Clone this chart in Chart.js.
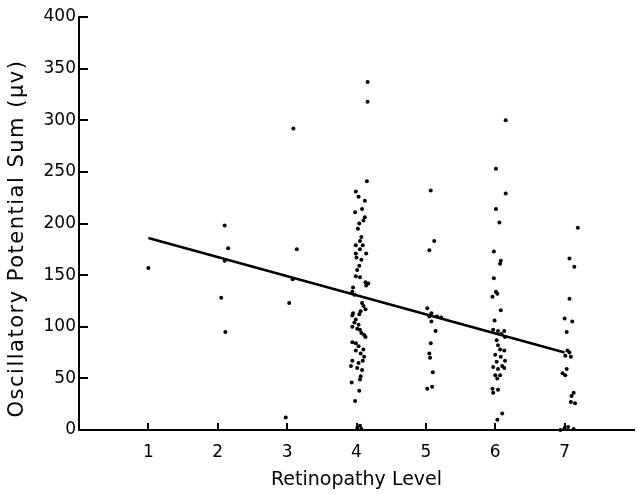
<!DOCTYPE html>
<html>
<head>
<meta charset="utf-8">
<script src="https://cdn.jsdelivr.net/npm/chart.js@4.4.1/dist/chart.umd.min.js"></script>
<style>
  html, body { margin: 0; padding: 0; background: #fff; }
  canvas { display: block; }
</style>
</head>
<body>
<canvas id="chart" width="638" height="494"></canvas>
<script>
// tick values shown on each axis
const xTickValues = [1, 2, 3, 4, 5, 6, 7];
const yTickValues = [0, 50, 100, 150, 200, 250, 300, 350, 400];

const xTitle = 'Retinopathy Level';
const yTitle = 'Oscillatory Potential Sum (\u03bcv)';

// scatter points per retinopathy level: [level (jittered), OP sum]
const level1 = [[1.00, 157]];
const level2 = [[2.10, 198], [2.15, 176], [2.10, 164], [2.05, 128], [2.11, 95]];
const level3 = [[3.09, 292], [3.14, 175], [3.08, 146], [3.03, 123], [2.98, 12]];
const level4 = [
    [4.16, 337], [4.16, 318], [4.15, 241], [3.99, 231], [4.03, 226], [4.12, 222],
    [4.08, 214], [3.98, 211], [4.12, 206], [4.10, 203], [4.04, 200], [4.02, 195],
    [4.07, 187], [4.05, 183], [4.09, 179], [3.99, 179], [4.05, 175], [3.99, 171],
    [4.14, 171], [4.00, 167], [4.07, 165], [4.04, 159], [4.01, 155], [3.99, 149],
    [4.05, 148], [4.13, 143], [4.14, 140], [4.17, 142], [3.95, 138], [3.94, 134],
    [3.97, 131], [4.08, 123], [4.10, 120], [4.13, 117], [4.06, 115], [3.95, 113],
    [4.04, 112], [3.94, 111], [3.99, 107], [3.97, 104], [4.03, 102], [3.94, 100],
    [4.01, 98], [4.05, 97], [4.07, 94], [4.11, 92], [4.13, 90], [3.94, 85],
    [3.99, 84], [4.03, 81], [4.10, 78], [3.99, 77], [4.06, 74], [4.11, 71],
    [3.94, 67], [4.09, 67], [4.03, 65], [3.92, 62], [4.01, 60], [4.08, 58],
    [4.06, 52], [4.05, 49], [3.93, 46], [4.04, 38], [3.98, 28],
    [4.01, 2], [4.05, 4], [4.07, 1]
];
const level5 = [
    [5.07, 232], [5.12, 183], [5.05, 174], [5.02, 118], [5.08, 113], [5.05, 110],
    [5.16, 110], [5.22, 109], [5.08, 105], [5.14, 96], [5.07, 84], [5.05, 74],
    [5.06, 70], [5.10, 56], [5.02, 40], [5.09, 42]
];
const level6 = [
    [6.15, 300], [6.01, 253], [6.15, 229], [6.01, 214], [6.06, 201], [5.98, 173],
    [6.08, 164], [6.07, 161], [5.98, 147], [6.01, 134], [6.03, 132], [5.96, 129],
    [6.08, 116], [5.99, 106], [5.97, 97], [6.04, 96], [6.13, 96], [6.09, 93],
    [6.14, 90], [6.02, 87], [6.04, 82], [6.07, 78], [6.13, 77], [6.00, 73],
    [6.08, 71], [6.14, 67], [6.02, 66], [6.10, 62], [5.97, 61], [6.04, 59],
    [6.13, 60], [6.00, 53], [6.07, 53], [6.03, 50], [5.96, 40], [6.04, 39],
    [5.97, 36], [6.10, 16], [6.03, 10]
];
const level7 = [
    [7.19, 196], [7.07, 166], [7.14, 158], [7.07, 127], [7.00, 108], [7.11, 105],
    [7.03, 95], [7.04, 77], [7.07, 75], [7.01, 72], [7.09, 71], [7.03, 59],
    [6.97, 55], [7.01, 53], [7.13, 36], [7.10, 33], [7.09, 27], [7.15, 26],
    [6.94, 0], [7.00, 2], [7.05, 3], [7.13, 1]
];

// fitted regression line end points
const fitLine = [[1, 186], [7, 75]];

const allPoints = [].concat(level1, level2, level3, level4, level5, level6, level7)
    .map(p => ({ x: p[0], y: p[1] }));

const FONT = "'DejaVu Sans', sans-serif";

// tick marks drawn on the inside of both axes
const innerTicks = {
    id: 'innerTicks',
    afterDatasetsDraw(chart) {
        const { ctx, chartArea, scales } = chart;
        ctx.save();
        ctx.strokeStyle = '#000';
        ctx.lineWidth = 2;
        ctx.beginPath();
        yTickValues.forEach(v => {
            const py = Math.round(scales.y.getPixelForValue(v));
            ctx.moveTo(chartArea.left, py);
            ctx.lineTo(chartArea.left + 9, py);
        });
        xTickValues.forEach(v => {
            const px = Math.round(scales.x.getPixelForValue(v));
            ctx.moveTo(px, chartArea.bottom);
            ctx.lineTo(px, chartArea.bottom - 7);
        });
        ctx.stroke();
        ctx.restore();
    }
};

// rotated y title, loosely spaced like the original typesetting
const yTitlePlugin = {
    id: 'yTitle',
    afterDraw(chart) {
        const { ctx, chartArea } = chart;
        ctx.save();
        ctx.translate(18, (chartArea.top + chartArea.bottom) / 2 + 15);
        ctx.rotate(-Math.PI / 2);
        ctx.font = '21px ' + FONT;
        ctx.letterSpacing = '1.5px';
        ctx.fillStyle = '#000';
        ctx.textAlign = 'center';
        ctx.textBaseline = 'middle';
        ctx.fillText(yTitle, 0, 0);
        ctx.restore();
    }
};

new Chart(document.getElementById('chart'), {
    type: 'scatter',
    data: {
        datasets: [
            {
                label: 'Subjects',
                data: allPoints,
                backgroundColor: '#000',
                borderColor: '#000',
                pointRadius: 2,
                pointBorderWidth: 0,
                clip: false
            },
            {
                type: 'line',
                label: 'Regression',
                data: fitLine.map(p => ({ x: p[0], y: p[1] })),
                borderColor: '#000',
                borderWidth: 2.5,
                pointRadius: 0,
                fill: false
            }
        ]
    },
    options: {
        responsive: false,
        devicePixelRatio: 1,
        animation: false,
        layout: { padding: { top: 17, right: 0, bottom: 0, left: 0 } },
        plugins: {
            legend: { display: false },
            tooltip: { enabled: false }
        },
        scales: {
            x: {
                type: 'linear',
                min: 0,
                max: 8,
                afterFit: scale => {
                    scale.height = 64;
                    scale.paddingLeft = 0;
                    scale.paddingRight = 0;
                },
                afterBuildTicks: scale => {
                    scale.ticks = xTickValues.map(v => ({ value: v }));
                },
                ticks: {
                    autoSkip: false,
                    maxRotation: 0,
                    padding: 12,
                    color: '#000',
                    font: { family: FONT, size: 17 },
                    callback: v => String(v)
                },
                grid: { display: false, drawTicks: false },
                border: { display: true, color: '#000', width: 2 },
                title: {
                    display: true,
                    text: xTitle,
                    color: '#000',
                    font: { family: FONT, size: 19 },
                    padding: { top: 0, bottom: 3 }
                }
            },
            y: {
                min: 0,
                max: 400,
                afterFit: scale => { scale.width = 79; },
                afterBuildTicks: scale => {
                    scale.ticks = yTickValues.map(v => ({ value: v }));
                },
                ticks: {
                    padding: 3,
                    color: '#000',
                    font: { family: FONT, size: 17 },
                    callback: v => String(v)
                },
                grid: { display: false, drawTicks: false },
                border: { display: true, color: '#000', width: 2 },
                title: { display: false }
            }
        }
    },
    plugins: [innerTicks, yTitlePlugin]
});
</script>
</body>
</html>
